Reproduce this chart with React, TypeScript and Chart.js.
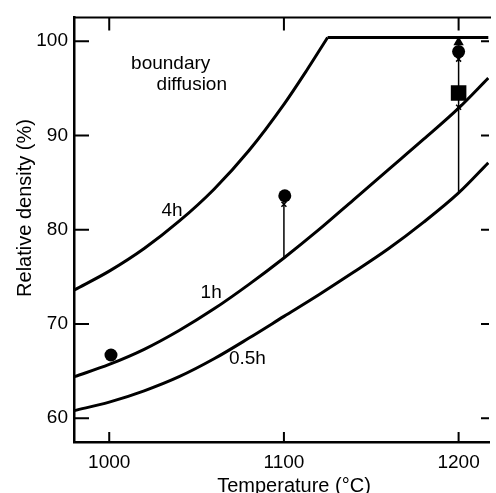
import React, { useEffect, useRef } from "react";
import { Chart, registerables } from "chart.js";

Chart.register(...registerables);

// ---- data ----
const xTicks = [1000, 1100, 1200];
const yTicks = [60, 70, 80, 90, 100];

const temps4h = [980, 1000, 1020, 1040, 1060, 1080, 1100, 1113, 1125];
const density4h = [73.6, 75.6, 78.0, 80.9, 84.3, 88.4, 93.3, 96.9, 100.4];

const tempsPlateau = [1125, 1217];
const densityPlateau = [100.4, 100.4];

const tempsCurve = [980, 1000, 1020, 1040, 1060, 1080, 1100, 1120, 1140, 1160, 1180, 1200, 1217];
const density1h = [64.4, 65.7, 67.3, 69.3, 71.6, 74.2, 77.0, 80.0, 83.2, 86.4, 89.6, 92.9, 96.1];
const density05h = [60.8, 61.7, 62.9, 64.4, 66.3, 68.5, 70.8, 73.1, 75.5, 78.0, 80.8, 83.9, 87.1];

const circleTemps = [1001, 1100.5, 1200];
const circleDensity = [66.7, 83.6, 98.9];

const triangleTemps = [1200];
const triangleDensity = [99.9];

const squareTemps = [1200];
const squareDensity = [94.5];

const crossTemps = [1100, 1200, 1200];
const crossDensity = [82.7, 98.1, 93.0];

const rise1100Temps = [1100, 1100];
const rise1100Density = [77.0, 83.6];
const rise1200Temps = [1200, 1200];
const rise1200Density = [83.9, 99.5];

const labels = [
  { text: "boundary", x: 1012.5, y: 97.04 },
  { text: "diffusion", x: 1027.1, y: 94.83 },
  { text: "4h", x: 1029.9, y: 81.42 },
  { text: "1h", x: 1052.3, y: 72.77 },
  { text: "0.5h", x: 1068.5, y: 65.7 },
];

const xTitle = "Temperature (°C)";
const yTitle = "Relative density (%)";

const FONT = "'Liberation Sans', Arial, sans-serif";

const pts = (xs: number[], ys: number[]) => xs.map((x, i) => ({ x, y: ys[i] }));

const framePlugin = {
  id: "frame",
  afterDraw(chart: any) {
    const { ctx, chartArea, scales } = chart;
    const xs = scales.x;
    const ys = scales.y;
    ctx.save();
    ctx.strokeStyle = "#000";
    // top border
    ctx.lineWidth = 2;
    ctx.beginPath();
    ctx.moveTo(chartArea.left, chartArea.top);
    ctx.lineTo(chartArea.right + 2, chartArea.top);
    ctx.stroke();
    // inward ticks
    ctx.lineWidth = 2;
    ctx.beginPath();
    xTicks.forEach((v) => {
      const px = xs.getPixelForValue(v);
      ctx.moveTo(px, chartArea.bottom);
      ctx.lineTo(px, chartArea.bottom - 10);
      ctx.moveTo(px, chartArea.top);
      ctx.lineTo(px, chartArea.top + 13);
    });
    yTicks.forEach((v) => {
      const py = ys.getPixelForValue(v);
      ctx.moveTo(chartArea.left, py);
      ctx.lineTo(chartArea.left + 15, py);
      ctx.moveTo(chartArea.right, py);
      ctx.lineTo(chartArea.right - 8, py);
    });
    ctx.stroke();

    // curve labels
    ctx.fillStyle = "#000";
    ctx.font = `19px ${FONT}`;
    ctx.textAlign = "left";
    ctx.textBaseline = "alphabetic";
    labels.forEach((l) => {
      ctx.fillText(l.text, xs.getPixelForValue(l.x), ys.getPixelForValue(l.y));
    });

    // axis titles
    ctx.font = `20px ${FONT}`;
    ctx.textAlign = "center";
    ctx.textBaseline = "middle";
    ctx.fillText(xTitle, 294, 486);
    ctx.translate(25, 208);
    ctx.rotate(-Math.PI / 2);
    ctx.fillText(yTitle, 0, 0);
    ctx.restore();
  },
};

export default function App() {
  const ref = useRef<HTMLCanvasElement | null>(null);

  useEffect(() => {
    if (!ref.current) return;
    const lineDs = (data: any[], width: number, mode: string = "monotone") => ({
      data,
      showLine: true,
      borderColor: "#000",
      borderWidth: width,
      pointRadius: 0,
      cubicInterpolationMode: mode,
      tension: 0,
      fill: false,
    });
    const chart = new Chart(ref.current, {
      type: "scatter",
      data: {
        datasets: [
          lineDs(pts(temps4h, density4h), 3),
          lineDs(pts(tempsPlateau, densityPlateau), 3, "default"),
          lineDs(pts(tempsCurve, density1h), 3),
          lineDs(pts(tempsCurve, density05h), 3),
          lineDs(pts(rise1100Temps, rise1100Density), 1.5, "default"),
          lineDs(pts(rise1200Temps, rise1200Density), 1.5, "default"),
          {
            data: pts(circleTemps, circleDensity),
            pointStyle: "circle",
            pointRadius: 6.5,
            backgroundColor: "#000",
            borderColor: "#000",
            borderWidth: 0,
          },
          {
            data: pts(triangleTemps, triangleDensity),
            pointStyle: "triangle",
            pointRadius: 6,
            backgroundColor: "#000",
            borderColor: "#000",
            borderWidth: 0,
          },
          {
            data: pts(squareTemps, squareDensity),
            pointStyle: "rect",
            pointRadius: 11,
            backgroundColor: "#000",
            borderColor: "#000",
            borderWidth: 0,
          },
          {
            data: pts(crossTemps, crossDensity),
            pointStyle: "crossRot",
            pointRadius: 3.5,
            backgroundColor: "#000",
            borderColor: "#000",
            borderWidth: 1.5,
          },
        ] as any,
      },
      options: {
        animation: false,
        responsive: false,
        events: [],
        layout: { padding: { top: 15, right: 2, left: 0, bottom: 0 } },
        plugins: {
          legend: { display: false },
          tooltip: { enabled: false },
          title: { display: false },
        },
        scales: {
          x: {
            type: "linear",
            min: 979.83,
            max: 1217.4,
            grid: { display: false, drawTicks: false },
            border: { display: true, color: "#000", width: 2.5 },
            afterBuildTicks: (s: any) => {
              s.ticks = xTicks.map((v) => ({ value: v }));
            },
            afterFit: (s: any) => {
              s.height = 51;
            },
            ticks: {
              color: "#000",
              padding: 9,
              maxRotation: 0,
              font: { family: FONT, size: 19 },
              callback: (v: any) => String(v),
            },
          },
          y: {
            type: "linear",
            min: 57.47,
            max: 102.53,
            grid: { display: false, drawTicks: false },
            border: { display: true, color: "#000", width: 2.5 },
            afterBuildTicks: (s: any) => {
              s.ticks = yTicks.map((v) => ({ value: v }));
            },
            afterFit: (s: any) => {
              s.width = 74;
            },
            ticks: {
              color: "#000",
              padding: 6,
              font: { family: FONT, size: 19 },
              callback: (v: any) => String(v),
            },
          },
        },
      } as any,
      plugins: [framePlugin],
    });
    return () => chart.destroy();
  }, []);

  return (
    <div
      style={{
        position: "absolute",
        left: 0,
        top: 0,
        width: 496,
        height: 493,
        overflow: "hidden",
        background: "#fff",
      }}
    >
      <canvas ref={ref} width={500} height={493} style={{ width: 500, height: 493, display: "block" }} />
    </div>
  );
}
